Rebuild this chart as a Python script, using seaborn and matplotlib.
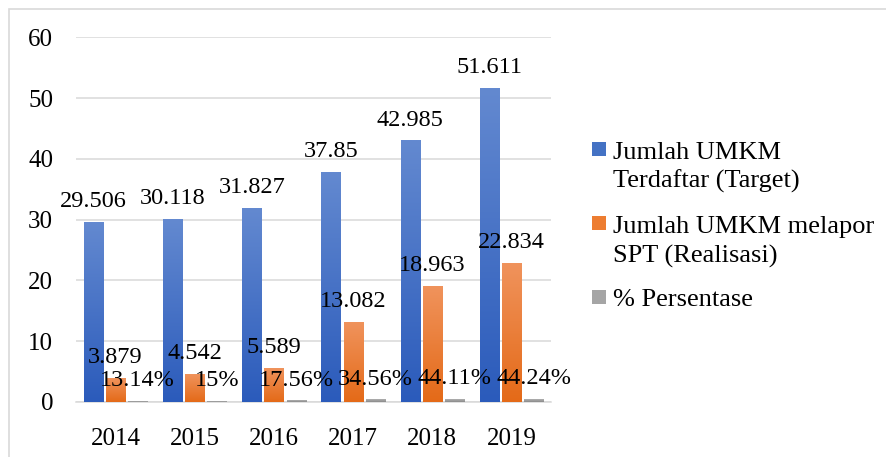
import numpy as np
import pandas as pd
import matplotlib
matplotlib.use("Agg")
import matplotlib.pyplot as plt
import seaborn as sns
from matplotlib.colors import LinearSegmentedColormap
from matplotlib.patches import Rectangle

# Data
years = ["2014", "2015", "2016", "2017", "2018", "2019"]
target = [29.506, 30.118, 31.827, 37.85, 42.985, 51.611]
realisasi = [3.879, 4.542, 5.589, 13.082, 18.963, 22.834]
persentase = [0.1314, 0.15, 0.1756, 0.3456, 0.4411, 0.4424]

series_names = [
    "Jumlah UMKM Terdaftar (Target)",
    "Jumlah UMKM melapor SPT (Realisasi)",
    "% Persentase",
]
legend_lines = [
    ["Jumlah UMKM", "Terdaftar (Target)"],
    ["Jumlah UMKM melapor", "SPT (Realisasi)"],
    ["% Persentase"],
]

# gradient colours (top, bottom) like the Excel fill
grad_colors = [
    ("#6389d0", "#2b5bbb"),
    ("#f0935c", "#e46a18"),
    ("#b0b0b0", "#8a8a8a"),
]
mid_colors = ["#4472c4", "#ed7d31", "#a5a5a5"]

df = pd.DataFrame({
    "Tahun": years * 3,
    "Nilai": target + realisasi + persentase,
    "Seri": [series_names[0]] * 6 + [series_names[1]] * 6 + [series_names[2]] * 6,
})

sns.set_style("whitegrid")
plt.rcParams["font.family"] = ["Liberation Serif", "DejaVu Serif"]
fs_label = 17.5
fs_tick = 18
fs_legend = 19

fig = plt.figure(figsize=(8.87, 4.57), dpi=100)
ax = fig.add_axes([0.0857, 0.1204, 0.5355, 0.7976])

sns.barplot(data=df, x="Tahun", y="Nilai", hue="Seri", hue_order=series_names,
            palette=mid_colors, width=0.84, gap=0.14, legend=False, ax=ax,
            saturation=1, zorder=3)

# gradient fill on every bar
grad = np.linspace(0, 1, 128).reshape(-1, 1)
for cont, (top_c, bot_c) in zip(ax.containers, grad_colors):
    cmap = LinearSegmentedColormap.from_list("g", [bot_c, top_c])
    for bar in cont:
        x, w, h = bar.get_x(), bar.get_width(), bar.get_height()
        ax.imshow(grad, extent=(x, x + w, 0, h), origin="lower", cmap=cmap,
                  aspect="auto", zorder=3, interpolation="bilinear")
        bar.set_visible(False)

# data labels
label_sets = [
    [str(v) for v in target],
    [str(v) for v in realisasi],
    [f"{v * 100:g}%" for v in persentase],
]
for cont, labels in zip(ax.containers, label_sets):
    for bar, lab in zip(cont, labels):
        ax.annotate(lab, (bar.get_x() + bar.get_width() / 2, bar.get_height()),
                    xytext=(0, 11), textcoords="offset points",
                    ha="center", va="baseline", fontsize=fs_label,
                    color="black", zorder=5)

ax.set_xlim(-0.5, 5.5)
ax.set_ylim(0, 60)
ax.set_yticks(range(0, 61, 10))
ax.set_xlabel("")
ax.set_ylabel("")

grid_c = "#d9d9d9"
ax.grid(axis="y", color=grid_c, linewidth=1.1, zorder=0)
ax.grid(axis="x", visible=False)
for s in ["left", "right", "top"]:
    ax.spines[s].set_visible(False)
ax.spines["bottom"].set_color(grid_c)
ax.spines["bottom"].set_linewidth(1.1)

ax.set_xticks(np.arange(-0.5, 6.0, 1.0), minor=True)
ax.tick_params(axis="x", which="minor", length=5, width=1.1, color=grid_c,
               direction="out")
ax.tick_params(axis="x", which="major", length=0, pad=19, labelsize=fs_tick)
ax.tick_params(axis="y", length=0, pad=16.5, labelsize=fs_tick)
for lab in ax.get_xticklabels() + ax.get_yticklabels():
    lab.set_color("black")

# legend drawn by hand so the square sits on the first line
W, H = 887, 457
baselines = [[159, 188], [233, 262.5], [306.5]]
for lines, ys, col in zip(legend_lines, baselines, mid_colors):
    for line, yb in zip(lines, ys):
        fig.text(613 / W, 1 - yb / H, line, fontsize=fs_legend, ha="left",
                 va="baseline", color="black")
    y0 = ys[0] - 3
    fig.patches.append(Rectangle((592 / W, 1 - y0 / H), 14 / W, 14 / H,
                                 transform=fig.transFigure, facecolor=col,
                                 edgecolor="none"))

# outer chart border (top and left edges visible)
fig.patches.append(Rectangle((9 / W, -0.1), 1.2, 1.1 - 9 / H,
                             transform=fig.transFigure, facecolor="none",
                             edgecolor=grid_c, linewidth=1.2))

fig.savefig("out.png", dpi=100)
